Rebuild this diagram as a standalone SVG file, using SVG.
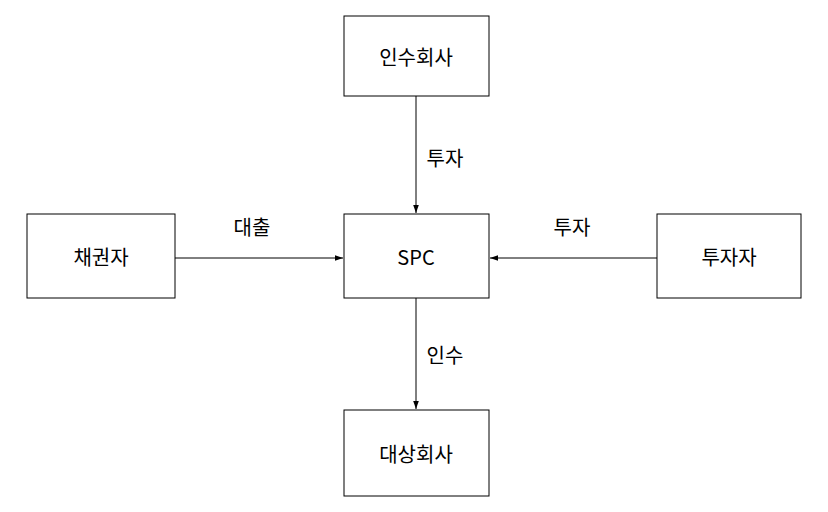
<svg xmlns="http://www.w3.org/2000/svg" width="828" height="512" viewBox="0 0 828 512">
<style>
rect{fill:#fff;stroke:#000;stroke-width:1}
text{font-family:"Noto Sans CJK KR","Noto Sans",sans-serif;font-size:20px;fill:#000;text-anchor:middle;dominant-baseline:central}
line{stroke:#000;stroke-width:1}
</style>
<defs><marker id="a" viewBox="0 0 10 10" refX="10" refY="5" markerWidth="8" markerHeight="8" orient="auto"><path d="M0,1.5L10,5L0,8.5z" fill="#000"/></marker></defs>
<rect width="828" height="512" style="stroke:none"/>
<g id="connectors">
<line x1="416" y1="96" x2="416" y2="213" marker-end="url(#a)"/>
<line x1="416" y1="298" x2="416" y2="409" marker-end="url(#a)"/>
<line x1="175" y1="258" x2="343" y2="258" marker-end="url(#a)"/>
<line x1="657" y1="258" x2="490" y2="258" marker-end="url(#a)"/>
<text x="445" y="157">투자</text>
<text x="445" y="354">인수</text>
<text x="252" y="226">대출</text>
<text x="572" y="226">투자</text>
</g>
<g id="n1"><rect x="344" y="16" width="145" height="80"/><text x="416" y="56">인수회사</text></g>
<g id="n2"><rect x="344" y="214" width="145" height="84"/><text x="416" y="256">SPC</text></g>
<g id="n3"><rect x="344" y="410" width="145" height="86"/><text x="416" y="453">대상회사</text></g>
<g id="n4"><rect x="27" y="214" width="148" height="84"/><text x="101" y="256">채권자</text></g>
<g id="n5"><rect x="657" y="214" width="144" height="84"/><text x="729" y="256">투자자</text></g>
</svg>
